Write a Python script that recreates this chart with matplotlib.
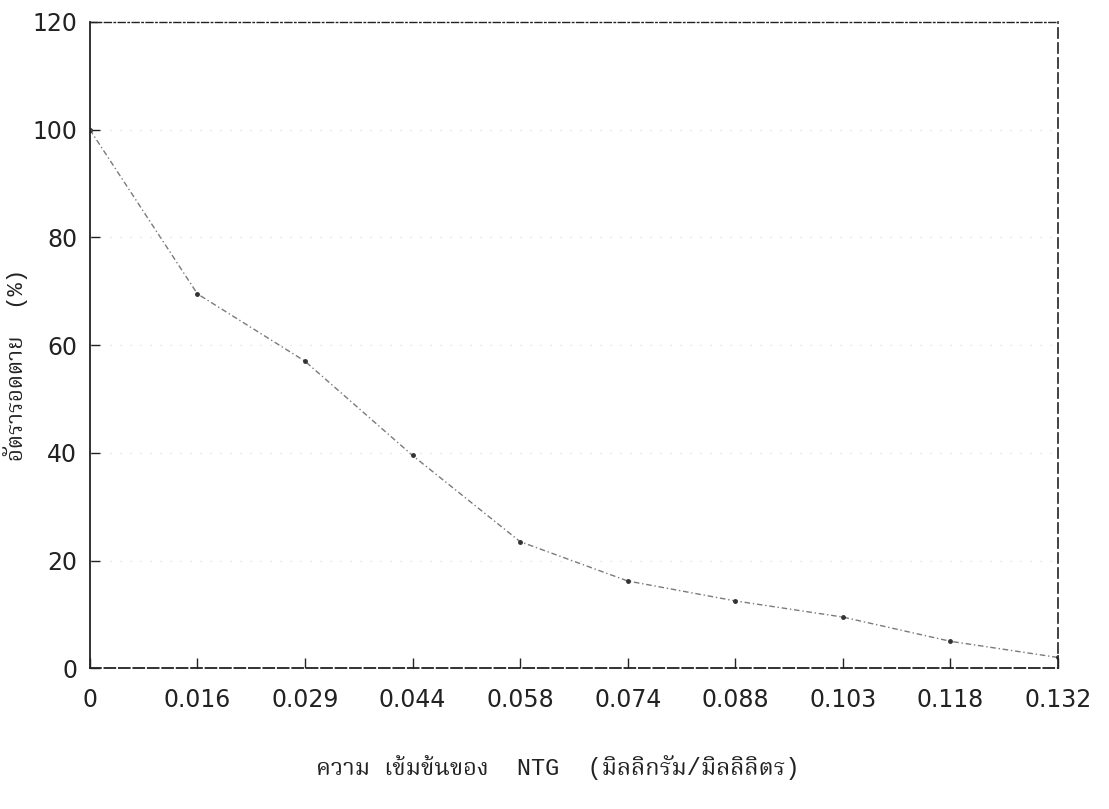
import matplotlib
matplotlib.use("Agg")
import matplotlib.pyplot as plt
import numpy as np

# ข้อมูลที่อ่านจากกราฟ
conc_labels = ["0", "0.016", "0.029", "0.044", "0.058", "0.074", "0.088", "0.103", "0.118", "0.132"]
survival = [100, 69.5, 57, 39.5, 23.5, 16.2, 12.5, 9.5, 5, 2]
y_ticks = [0, 20, 40, 60, 80, 100, 120]

thai_font = ["Liberation Mono", "Noto Serif Thai", "Sarabun", "Athiti"]
plt.rcParams["font.family"] = ["DejaVu Sans", "Athiti"]

fig = plt.figure(figsize=(11.09, 8.09), dpi=100)
ax = fig.add_axes([0.081, 0.174, 0.873, 0.799])

x = np.arange(len(conc_labels))
ax.plot(x, survival, color="#7a7a7a", linestyle=(0, (4, 2, 1, 2)), linewidth=1.0,
        marker="o", markersize=2.5, markerfacecolor="#333333", markeredgecolor="#333333")

ax.set_xlim(0, len(conc_labels) - 1)
ax.set_ylim(0, 120)
ax.set_xticks(x)
ax.set_xticklabels(conc_labels)
ax.set_yticks(y_ticks)
for lab in ax.get_xticklabels() + ax.get_yticklabels():
    lab.set_fontsize(17)

# เส้นกริดจาง ๆ
for yv in y_ticks[1:-1]:
    ax.axhline(yv, color="#bbbbbb", linestyle=(0, (1, 8)), linewidth=0.8, alpha=0.6)

ax.tick_params(direction="in", length=7, width=1, colors="#222222")
ax.tick_params(axis="x", pad=14)
ax.tick_params(axis="y", pad=9)

ax.spines["left"].set_linewidth(1.3)
ax.spines["bottom"].set_linestyle((0, (6, 2)))
ax.spines["bottom"].set_linewidth(1.3)
ax.spines["top"].set_linestyle((0, (5, 2, 1, 2)))
ax.spines["top"].set_linewidth(1.0)
ax.spines["right"].set_linestyle((0, (6, 3)))
ax.spines["right"].set_linewidth(1.2)
for s in ax.spines.values():
    s.set_color("#222222")

ax.set_xlabel("ความ เข้มข้นของ  NTG  (มิลลิกรัม/มิลลิลิตร)", family=thai_font,
              fontsize=17, color="#222222")
ax.xaxis.set_label_coords(0.483, -0.135)
ax.set_ylabel("อัตรารอดตาย  (%)", family=thai_font, fontsize=16, color="#222222")
ax.yaxis.set_label_coords(-0.064, 0.47)

fig.savefig("out.png")
